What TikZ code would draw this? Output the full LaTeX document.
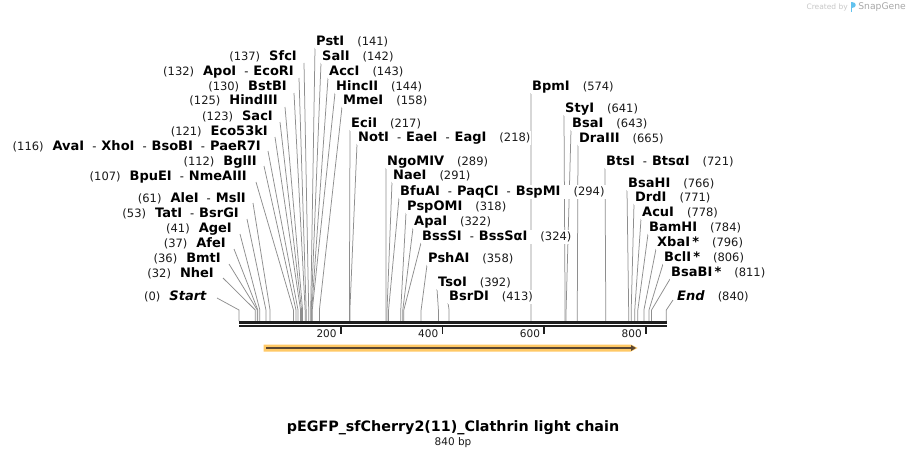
\documentclass[tikz,border=0pt]{standalone}
\usepackage{fontspec}
\setmainfont{DejaVu Sans}
\usetikzlibrary{calc,arrows.meta}
\pgfdeclarelayer{bg}
\pgfsetlayers{bg,main}
\definecolor{leadc}{HTML}{8E8E8E}
\definecolor{bbone}{HTML}{1E1E1E}
\definecolor{featfill}{HTML}{FFC966}
\definecolor{featline}{HTML}{5A4632}
\definecolor{numc}{HTML}{1A1A1A}
\definecolor{cbgray}{HTML}{C8C8C8}
\definecolor{sggray}{HTML}{A8A8A8}
\definecolor{logoblue}{HTML}{62C2EE}
\tikzset{
  lab/.style={inner sep=1pt, fill=white, text height=9.5pt, text depth=2.5pt,
              font=\fontsize{13}{15}\selectfont\bfseries},
  leader/.style={draw=leadc, line width=0.75pt},
  ticknum/.style={inner sep=0pt, anchor=east, font=\fontsize{10.5}{12}\selectfont, text=numc},
}
\newcommand\nm[1]{{\fontsize{11.5}{13}\selectfont\mdseries\color{numc}(#1)}}
\newcommand\dsh{\hspace{8pt}{\fontsize{11.5}{13}\selectfont\mdseries -}\hspace{5pt}}
\newcommand\gapL{\hspace{9pt}}
\newcommand\gapR{\hspace{13pt}}
% left-side label: id, x of text end, y, bp, text, leader offset
\newcommand\siteL[6]{%
  \coordinate (s#1) at ({239+0.5087*#4},310);
  \coordinate (b#1) at ({239+0.5087*#4},321);
  \node[lab,anchor=east] (l#1) at (#2+1,#3) {#5};
  \coordinate (t#1) at ($(l#1.east)+(#6)$);
  \begin{pgfonlayer}{bg}\draw[leader] (t#1) -- (s#1) -- (b#1);\end{pgfonlayer}}
% right-side label: id, x of text start, y, bp, text, leader offset
\newcommand\siteR[6]{%
  \coordinate (s#1) at ({239+0.5087*#4},310);
  \coordinate (b#1) at ({239+0.5087*#4},321);
  \node[lab,anchor=west] (l#1) at (#2-1,#3) {#5};
  \coordinate (t#1) at ($(l#1.west)+(#6)$);
  \begin{pgfonlayer}{bg}\draw[leader] (t#1) -- (s#1) -- (b#1);\end{pgfonlayer}}
\begin{document}
\begin{tikzpicture}[x=1pt,y=-1pt]
\useasboundingbox (0,0) rectangle (907,460);
\begin{pgfonlayer}{bg}\fill[white] (0,0) rectangle (907,460);\end{pgfonlayer}

% watermark
\node[inner sep=0pt,anchor=east,font=\fontsize{9.2}{11}\selectfont,text=sggray] (sg) at (906,7) {SnapGene};
\node[inner sep=0pt,anchor=east,font=\fontsize{7.5}{8}\selectfont,text=cbgray] (cb) at (848,7.5) {Created by};
\fill[logoblue] (850.5,2.5) rectangle (852.3,12);
\fill[logoblue] (852.3,2.5) .. controls (856.5,2.5) and (856.5,8.5) .. (852.3,8.5) -- cycle;

% backbone
\draw[bbone,line width=2.6pt] (239,322.4) -- (667,322.4);
\draw[bbone,line width=2pt] (239,326.4) -- (667,326.4);
% ticks
\foreach \v in {200,400,600,800}{
  \draw[bbone,line width=1.6pt] ({239+0.5087*\v},327) -- ({239+0.5087*\v},334);
  \node[ticknum] (tk\v) at ({239+0.5087*\v-4},334) {\v};
}

% feature arrow
\fill[featfill] (263.5,344.5) -- (631,344.5) -- (637.5,348) -- (631,351.5) -- (263.5,351.5) -- cycle;
\draw[featline,line width=1.8pt,-{Triangle[length=5pt,width=5.5pt]}] (266,348) -- (636,348);

% left labels
\siteL{SfcI}{297}{57}{137}{\nm{137}\gapL SfcI}{6,6}
\siteL{ApoI}{294}{72}{132}{\nm{132}\gapL ApoI\dsh EcoRI}{4,6}
\siteL{BstBI}{287}{87}{130}{\nm{130}\gapL BstBI}{6,6}
\siteL{HindIII}{278}{101}{125}{\nm{125}\gapL HindIII}{6,6}
\siteL{SacI}{273}{117}{123}{\nm{123}\gapL SacI}{6,5}
\siteL{Eco}{268}{132}{121}{\nm{121}\gapL Eco53kI}{6,5}
\siteL{AvaI}{261}{147}{116}{\nm{116}\gapL AvaI\dsh XhoI\dsh BsoBI\dsh PaeR7I}{6,4}
\siteL{BglII}{257}{162}{112}{\nm{112}\gapL BglII}{6,4}
\siteL{BpuEI}{247}{177}{107}{\nm{107}\gapL BpuEI\dsh NmeAIII}{8,5}
\siteL{AleI}{246}{199}{61}{\nm{61}\gapL AleI\dsh MslI}{6,4}
\siteL{TatI}{239}{214}{53}{\nm{53}\gapL TatI\dsh BsrGI}{7,5}
\siteL{AgeI}{232}{229}{41}{\nm{41}\gapL AgeI}{7,5}
\siteL{AfeI}{226}{244}{37}{\nm{37}\gapL AfeI}{7,5}
\siteL{BmtI}{221}{259}{36}{\nm{36}\gapL BmtI}{7,5}
\siteL{NheI}{214}{274}{32}{\nm{32}\gapL NheI}{8,4}
\siteL{Start}{207}{297}{0}{\nm{0}\gapL \textit{Start}}{9,1}

% centre and right labels
\siteR{PstI}{316}{42}{141}{PstI\gapR\nm{141}}{0,6}
\siteR{SalI}{322}{57}{142}{SalI\gapR\nm{142}}{0,6}
\siteR{AccI}{329}{72}{143}{AccI\gapR\nm{143}}{0,6}
\siteR{HincII}{336}{87}{144}{HincII\gapR\nm{144}}{0,6}
\siteR{MmeI}{343}{101}{158}{MmeI\gapR\nm{158}}{0,6}
\siteR{EciI}{351}{124}{217}{EciI\gapR\nm{217}}{0,6}
\siteR{NotI}{358}{138}{218}{NotI\dsh EaeI\dsh EagI\gapR\nm{218}}{0,6}
\siteR{NgoMIV}{387}{162}{289}{NgoMIV\gapR\nm{289}}{0,6}
\siteR{NaeI}{393}{176}{291}{NaeI\gapR\nm{291}}{0,6}
\siteR{BfuAI}{400}{192}{294}{BfuAI\dsh PaqCI\dsh BspMI\gapR\nm{294}}{0,6}
\siteR{PspOMI}{407}{207}{318}{PspOMI\gapR\nm{318}}{0,6}
\siteR{ApaI}{414}{222}{322}{ApaI\gapR\nm{322}}{0,6}
\siteR{BssSI}{422}{237}{324}{BssSI\dsh BssSαI\gapR\nm{324}}{0,6}
\siteR{PshAI}{428}{259}{358}{PshAI\gapR\nm{358}}{0,6}
\siteR{TsoI}{438}{283}{392}{TsoI\gapR\nm{392}}{0,6}
\siteR{BsrDI}{449}{297}{413}{BsrDI\gapR\nm{413}}{0,6}
\siteR{BpmI}{532}{87}{574}{BpmI\gapR\nm{574}}{0,6}
\siteR{StyI}{565}{109}{641}{StyI\gapR\nm{641}}{0,6}
\siteR{BsaI}{572}{124}{643}{BsaI\gapR\nm{643}}{0,6}
\siteR{DraIII}{579}{139}{665}{DraIII\gapR\nm{665}}{0,6}
\siteR{BtsI}{606}{162}{721}{BtsI\dsh BtsαI\gapR\nm{721}}{0,6}
\siteR{BsaHI}{628}{184}{766}{BsaHI\gapR\nm{766}}{0,6}
\siteR{DrdI}{635}{198}{771}{DrdI\gapR\nm{771}}{0,6}
\siteR{AcuI}{642}{213}{778}{AcuI\gapR\nm{778}}{0,6}
\siteR{BamHI}{649}{228}{784}{BamHI\gapR\nm{784}}{0,6}
\siteR{XbaI}{657}{243}{796}{XbaI\,*\gapR\nm{796}}{0,6}
\siteR{BclI}{664}{258}{806}{BclI\,*\gapR\nm{806}}{0,6}
\siteR{BsaBI}{671}{273}{811}{BsaBI\,*\gapR\nm{811}}{0,6}
\siteR{End}{677}{297}{840}{\textit{End}\gapR\nm{840}}{-3,3}

% title
\node[inner sep=0pt,font=\fontsize{14.3}{17}\selectfont\bfseries] (title) at (453,428) {pEGFP\_sfCherry2(11)\_Clathrin light chain};
\node[inner sep=0pt,font=\fontsize{10.5}{12}\selectfont,text=numc] (bp) at (453,443) {840 bp};
\end{tikzpicture}
\end{document}
